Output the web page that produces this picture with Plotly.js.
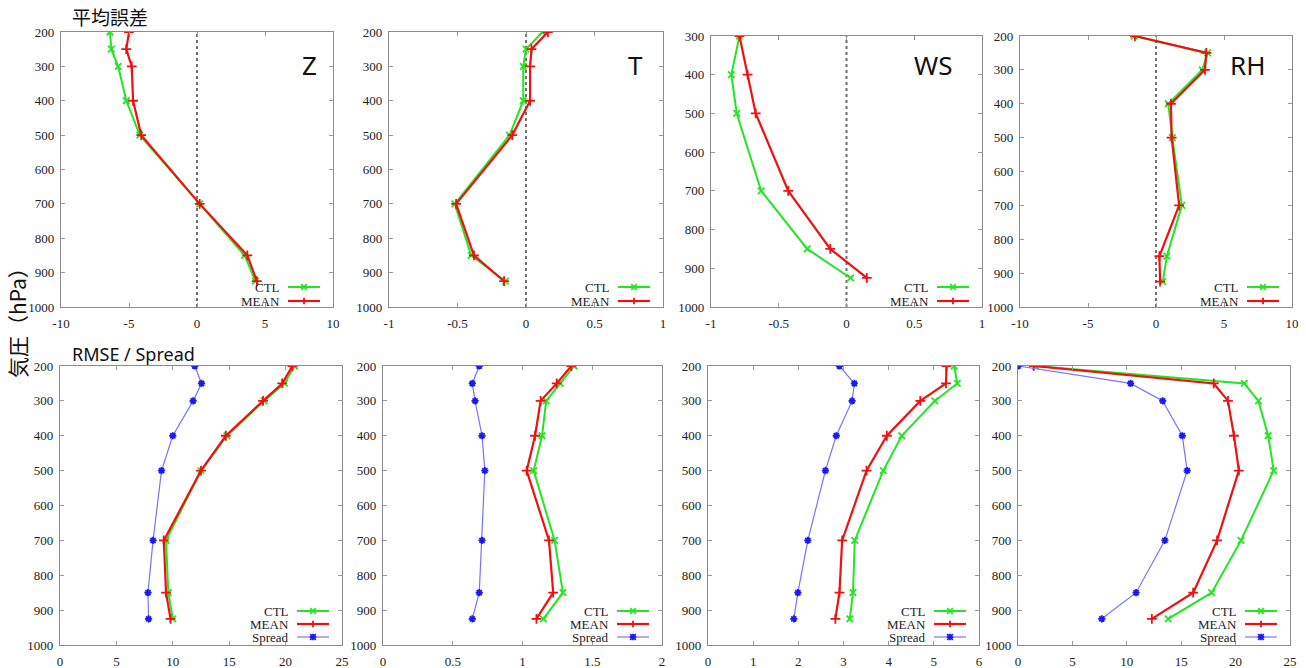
<!DOCTYPE html>
<html>
<head>
<meta charset="utf-8">
<script src="https://cdn.plot.ly/plotly-3.0.1.min.js"></script>
<style>html,body{margin:0;padding:0;background:#fff;}#chart{width:1306px;height:668px;}</style>
</head>
<body>
<div id="chart"></div>
<script>
// ---------- data ----------
const levels = [200, 250, 300, 400, 500, 700, 850, 925];
const levelsWS = [300, 400, 500, 700, 850, 925];

const biasZ_CTL  = [-6.4, -6.3, -5.8, -5.2, -4.2, 0.2, 3.5, 4.3];
const biasZ_MEAN = [-5.0, -5.2, -4.8, -4.7, -4.1, 0.2, 3.7, 4.4];
const biasT_CTL  = [0.12, 0.0, -0.02, -0.02, -0.12, -0.52, -0.40, -0.15];
const biasT_MEAN = [0.16, 0.04, 0.03, 0.03, -0.10, -0.51, -0.38, -0.16];
const biasWS_CTL  = [-0.79, -0.85, -0.81, -0.63, -0.29, 0.03];
const biasWS_MEAN = [-0.79, -0.73, -0.67, -0.43, -0.12, 0.15];
const biasRH_CTL  = [-1.6, 3.8, 3.4, 0.9, 1.2, 1.9, 0.8, 0.5];
const biasRH_MEAN = [-1.55, 3.7, 3.6, 1.1, 1.15, 1.7, 0.25, 0.3];

const rmseZ_CTL  = [20.8, 19.9, 18.1, 14.8, 12.5, 9.4, 9.6, 10.0];
const rmseZ_MEAN = [20.6, 19.7, 18.0, 14.7, 12.5, 9.2, 9.4, 9.8];
const spreadZ    = [11.95, 12.55, 11.8, 10.0, 9.0, 8.25, 7.8, 7.85];
const rmseT_CTL  = [1.37, 1.27, 1.17, 1.14, 1.08, 1.23, 1.29, 1.15];
const rmseT_MEAN = [1.35, 1.245, 1.13, 1.09, 1.03, 1.19, 1.22, 1.10];
const spreadT    = [0.69, 0.64, 0.66, 0.71, 0.73, 0.71, 0.69, 0.64];
const rmseWS_CTL  = [5.45, 5.52, 5.02, 4.29, 3.88, 3.25, 3.21, 3.14];
const rmseWS_MEAN = [5.28, 5.27, 4.70, 3.96, 3.51, 2.97, 2.91, 2.82];
const spreadWS    = [2.91, 3.24, 3.19, 2.84, 2.60, 2.21, 1.99, 1.90];
const rmseRH_CTL  = [1.6, 20.8, 22.1, 23.0, 23.5, 20.5, 17.8, 13.8];
const rmseRH_MEAN = [1.45, 18.0, 19.3, 19.85, 20.3, 18.3, 16.1, 12.3];
const spreadRH    = [0.0, 10.35, 13.3, 15.1, 15.55, 13.5, 10.85, 7.7];

// tick values
const yTicks   = [200, 300, 400, 500, 600, 700, 800, 900, 1000];
const yTicksWS = [300, 400, 500, 600, 700, 800, 900, 1000];
const xTicksZbias  = [-10, -5, 0, 5, 10];
const xTicksTbias  = [-1, -0.5, 0, 0.5, 1];
const xTicksWSbias = [-1, -0.5, 0, 0.5, 1];
const xTicksRHbias = [-10, -5, 0, 5, 10];
const xTicksZrmse  = [0, 5, 10, 15, 20, 25];
const xTicksTrmse  = [0, 0.5, 1, 1.5, 2];
const xTicksWSrmse = [0, 1, 2, 3, 4, 5, 6];
const xTicksRHrmse = [0, 5, 10, 15, 20, 25];

const panelLabels = ['Z', 'T', 'WS', 'RH'];
const seriesNames = ['CTL', 'MEAN', 'Spread'];
const zeroValue = 0;

// ---------- styling ----------
const W = 1306, H = 668;
const px = x => x / W;
const py = y => 1 - y / H;
const COL = {CTL: '#22e622', MEAN: '#f01010', Spread: '#7474ff'};
const MCOL = {CTL: '#22e622', MEAN: '#f01010', Spread: '#1a1af0'};
const SYM = {CTL: 'x-thin', MEAN: 'cross-thin', Spread: 'asterisk'};
const LW = {CTL: 2, MEAN: 2.2, Spread: 1.2};
const MSIZE = {CTL: 6.5, MEAN: 7, Spread: 6};
const tickFont = {family: "'Liberation Serif', serif", size: 13, color: '#222'};

const panels = [
  {box: [61, 333, 32, 307], xt: xTicksZbias, yt: yTicks, zero: true, label: panelLabels[0], lx: 309,
   series: [['CTL', levels, biasZ_CTL], ['MEAN', levels, biasZ_MEAN]]},
  {box: [389, 663, 32, 307], xt: xTicksTbias, yt: yTicks, zero: true, label: panelLabels[1], lx: 635,
   series: [['CTL', levels, biasT_CTL], ['MEAN', levels, biasT_MEAN]]},
  {box: [711, 982, 36, 307], xt: xTicksWSbias, yt: yTicksWS, zero: true, label: panelLabels[2], lx: 933,
   series: [['CTL', levelsWS, biasWS_CTL], ['MEAN', levelsWS, biasWS_MEAN]]},
  {box: [1020, 1292, 36, 307], xt: xTicksRHbias, yt: yTicks, zero: true, label: panelLabels[3], lx: 1247,
   series: [['CTL', levels, biasRH_CTL], ['MEAN', levels, biasRH_MEAN]]},
  {box: [60, 342, 366, 645], xt: xTicksZrmse, yt: yTicks,
   series: [['CTL', levels, rmseZ_CTL], ['MEAN', levels, rmseZ_MEAN], ['Spread', levels, spreadZ]]},
  {box: [383, 662, 366, 645], xt: xTicksTrmse, yt: yTicks,
   series: [['CTL', levels, rmseT_CTL], ['MEAN', levels, rmseT_MEAN], ['Spread', levels, spreadT]]},
  {box: [708, 979, 366, 645], xt: xTicksWSrmse, yt: yTicks,
   series: [['CTL', levels, rmseWS_CTL], ['MEAN', levels, rmseWS_MEAN], ['Spread', levels, spreadWS]]},
  {box: [1018, 1290, 366, 645], xt: xTicksRHrmse, yt: yTicks,
   series: [['CTL', levels, rmseRH_CTL], ['MEAN', levels, rmseRH_MEAN], ['Spread', levels, spreadRH]]}
];

const data = [];
const layout = {
  width: W, height: H, margin: {l: 0, r: 0, t: 0, b: 0},
  paper_bgcolor: '#fff', plot_bgcolor: '#fff', showlegend: false,
  shapes: [], annotations: []
};

panels.forEach((p, i) => {
  const n = i + 1;
  const xa = 'x' + (n === 1 ? '' : n), ya = 'y' + (n === 1 ? '' : n);
  const xk = 'xaxis' + (n === 1 ? '' : n), yk = 'yaxis' + (n === 1 ? '' : n);
  const [L, R, T, B] = p.box;
  const axCommon = {
    showline: true, mirror: 'ticks', linecolor: '#8c8c8c', linewidth: 1.2,
    ticks: 'inside', ticklen: 4, tickcolor: '#9a9a9a', tickwidth: 1,
    showgrid: false, zeroline: false, tickfont: tickFont, fixedrange: true
  };
  layout[xk] = Object.assign({}, axCommon, {
    domain: [px(L), px(R)], anchor: ya,
    range: [p.xt[0], p.xt[p.xt.length - 1]],
    tickmode: 'array', tickvals: p.xt, ticktext: p.xt.map(String),
    ticklabelstandoff: 4
  });
  layout[yk] = Object.assign({}, axCommon, {
    domain: [py(B), py(T)], anchor: xa,
    range: [p.yt[p.yt.length - 1], p.yt[0]],
    tickmode: 'array', tickvals: p.yt, ticktext: p.yt.map(String),
    ticklabelstandoff: 3
  });
  p.series.forEach(([name, y, x]) => {
    data.push({
      type: 'scatter', mode: 'lines+markers', name: name,
      x: x, y: y, xaxis: xa, yaxis: ya,
      line: {color: COL[name], width: LW[name]},
      marker: {symbol: SYM[name], size: MSIZE[name],
               color: MCOL[name], line: {color: MCOL[name], width: 1.8}},
      hoverinfo: 'x+y'
    });
  });
  if (p.zero) {
    layout.shapes.push({type: 'line', xref: xa, yref: ya + ' domain',
      x0: zeroValue, x1: zeroValue, y0: 0, y1: 1,
      line: {color: '#707070', width: 2, dash: 'dot'}, layer: 'below'});
  }
  if (p.label) {
    layout.annotations.push({xref: 'paper', yref: 'paper', x: px(p.lx), y: py(65),
      xanchor: 'center', yanchor: 'middle', text: p.label, showarrow: false,
      font: {family: 'Noto Sans, Open Sans, sans-serif', size: 26, color: '#111'}});
  }
  // custom legend (text left, sample right)
  const nS = p.series.length;
  const gap = nS === 3 ? 13 : 14;
  const last = nS === 3 ? 8 : 6;
  p.series.forEach(([name], k) => {
    const yy = B - last - (nS - 1 - k) * gap;
    layout.annotations.push({xref: 'paper', yref: 'paper', x: px(R - 51), y: py(yy),
      xanchor: 'right', yanchor: 'middle', text: name, showarrow: false,
      font: {family: "'Liberation Serif', serif", size: 13, color: '#222'}});
    layout.shapes.push({type: 'line', xref: 'paper', yref: 'paper',
      x0: px(R - 45), x1: px(R - 13), y0: py(yy), y1: py(yy),
      line: {color: COL[name], width: LW[name]}});
    const cx = R - 29, s = 2.8;
    const segs = [];
    if (name === 'CTL' || name === 'Spread') segs.push([-s, -s, s, s], [-s, s, s, -s]);
    if (name === 'MEAN' || name === 'Spread') segs.push([-s - 0.5, 0, s + 0.5, 0], [0, -s - 0.5, 0, s + 0.5]);
    segs.forEach(([a, b, c, d]) => layout.shapes.push({type: 'line', xref: 'paper', yref: 'paper',
      x0: px(cx + a), y0: py(yy + b), x1: px(cx + c), y1: py(yy + d),
      line: {color: MCOL[name], width: 1.8}}));
  });
});

// titles
layout.annotations.push({xref: 'paper', yref: 'paper', x: px(70), y: py(17),
  xanchor: 'left', yanchor: 'middle', text: '平均誤差', showarrow: false,
  font: {family: 'Noto Sans CJK JP, sans-serif', size: 19, color: '#111'}});
layout.annotations.push({xref: 'paper', yref: 'paper', x: px(70), y: py(354),
  xanchor: 'left', yanchor: 'middle', text: 'RMSE / Spread', showarrow: false,
  font: {family: 'Noto Sans, sans-serif', size: 18, color: '#111'}});
layout.annotations.push({xref: 'paper', yref: 'paper', x: px(17), y: py(318),
  xanchor: 'center', yanchor: 'middle', text: '気圧（hPa）', showarrow: false, textangle: -90,
  font: {family: 'Noto Sans CJK JP, sans-serif', size: 21, color: '#111'}});

Plotly.newPlot('chart', data, layout, {displayModeBar: false, staticPlot: true});
</script>
</body>
</html>
